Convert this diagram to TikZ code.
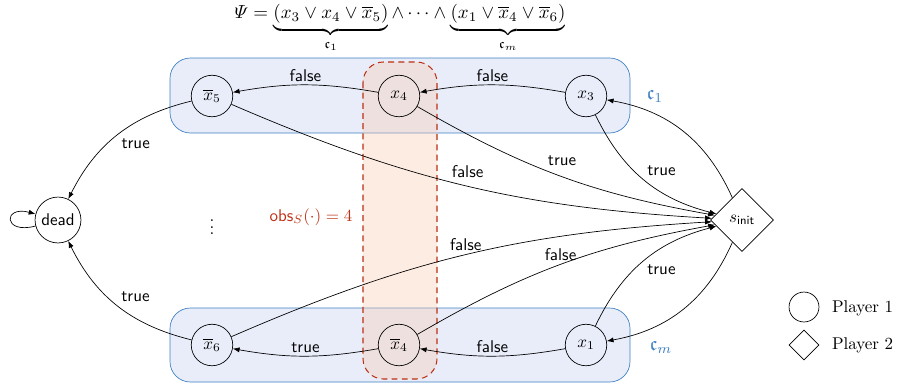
\documentclass[tikz,border=0pt]{standalone}
\usepackage{amsmath}
\usepackage{amssymb}
\usetikzlibrary{shapes.geometric, arrows.meta}

\definecolor{clausefill}{RGB}{233,237,250}
\definecolor{clauseblue}{RGB}{62,128,196}
\definecolor{obsred}{RGB}{188,48,20}
\definecolor{obsfill}{RGB}{248,204,178}

\tikzset{
  state/.style = {draw, circle, minimum size = 24.4pt, inner sep = 0pt},
  edge/.style = {-{Latex[length = 4pt, width = 3pt]}},
  lbl/.style = {font = \sffamily, inner sep = 2pt},
  clause/.style = {draw = clauseblue, fill = clausefill, rounded corners = 12pt},
  obsbox/.style = {draw = obsred, line width = 0.6pt, fill = obsfill, fill opacity = 0.38, dash pattern = on 3.5pt off 2.5pt, rounded corners = 12pt}
}

\begin{document}
\begin{tikzpicture}[x = 0.588pt, y = -0.588pt]
\useasboundingbox (0, 0) rectangle (898, 384);

\draw[clause] (170, 58) rectangle (630, 133);
\draw[clause] (170, 308) rectangle (630, 382);
\draw[obsbox] (363, 62) rectangle (437, 379);

\node[scale = 1.115, transform shape] (psi) at (400, 28) {$\varPsi = \underbrace{(x_3 \vee x_4 \vee \overline{x}_5)}_{\mathfrak{c}_1} \wedge \cdots \wedge \underbrace{(x_1 \vee \overline{x}_4 \vee \overline{x}_6)}_{\mathfrak{c}_m}$};

\node[state] (nx5) at (212, 96) {$\overline{x}_5$};
\node[state] (x4) at (399, 96) {$x_4$};
\node[state] (x3) at (586, 96) {$x_3$};
\node[state] (nx6) at (212, 345) {$\overline{x}_6$};
\node[state] (nx4) at (399, 345) {$\overline{x}_4$};
\node[state] (x1) at (586, 345) {$x_1$};

\node[state, minimum size = 27pt, font = \sffamily] (dead) at (58, 220) {dead};
\node[draw, diamond, minimum size = 37pt, inner sep = 0pt] (init) at (742, 220) {$s_{\mathsf{init}}$};

\node[text = clauseblue, scale = 1.15, transform shape] (c1) at (655, 96) {$\mathfrak{c}_1$};
\node[text = clauseblue, scale = 1.15, transform shape] (cm) at (661, 347) {$\mathfrak{c}_m$};
\node (dots) at (212, 222) {$\vdots$};
\node[text = obsred] (obs) at (311, 217) {$\mathsf{obs}_S(\cdot) = 4$};

% top clause
\draw[edge] (x3) to[bend right = 10] node[lbl, above] {false} (x4);
\draw[edge] (x4) to[bend right = 10] node[lbl, above] {false} (nx5);
\draw[edge] (nx5) to[bend right = 25] node[lbl, auto] {true} (dead);
\draw[edge] (nx5) to[bend right = 10] node[lbl, auto, pos = 0.46] {false} (init);
\draw[edge] (x4) to[bend right = 10] node[lbl, auto, pos = 0.44] {true} (init);
\draw[edge] (x3) to[bend right = 25] node[lbl, auto] {true} (init);
\draw[edge] (init) to[bend right = 28] (x3);

% bottom clause
\draw[edge] (x1) to[bend left = 10] node[lbl, above] {false} (nx4);
\draw[edge] (nx4) to[bend left = 10] node[lbl, above] {true} (nx6);
\draw[edge] (nx6) to[bend left = 25] node[lbl, auto, swap] {true} (dead);
\draw[edge] (nx6) to[bend left = 10] node[lbl, above, pos = 0.5] {false} (init);
\draw[edge] (nx4) to[bend left = 10] node[lbl, above, pos = 0.5] {false} (init);
\draw[edge] (x1) to[bend left = 25] node[lbl, auto, swap] {true} (init);
\draw[edge] (init) to[bend left = 28] (x1);

\draw[edge] (dead) to[loop left, min distance = 7mm] (dead);

% legend
\node[state, minimum size = 17.6pt] (p1) at (804, 307) {};
\node[anchor = west] (p1txt) at (826, 308) {Player 1};
\node[draw, diamond, minimum size = 17.6pt, inner sep = 0pt] (p2) at (804, 345) {};
\node[anchor = west] (p2txt) at (826, 345) {Player 2};
\end{tikzpicture}
\end{document}
